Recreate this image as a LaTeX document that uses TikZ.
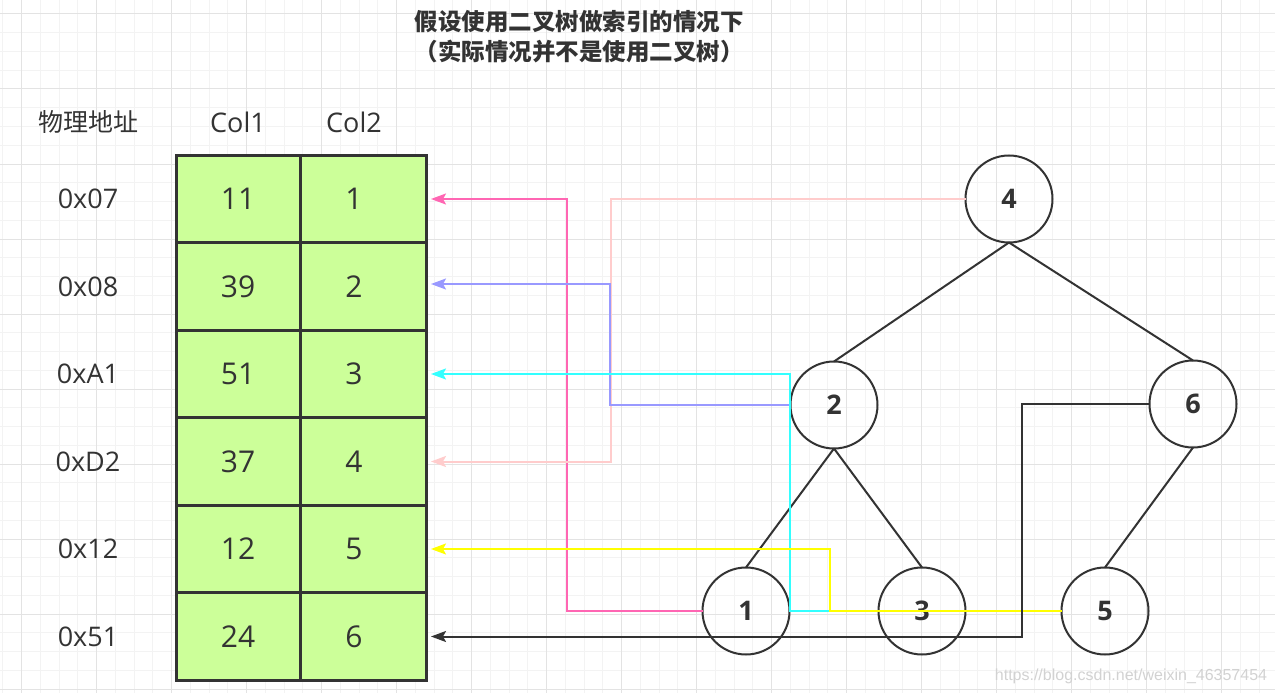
\documentclass[tikz,border=0pt]{standalone}
\usepackage{fontspec}
\setmainfont{Open Sans}
\newfontfamily\cjk{Noto Sans CJK SC}
\newfontfamily\wmfont{Liberation Sans}
\usetikzlibrary{arrows.meta,calc}
\definecolor{gridmin}{HTML}{F3F3F3}
\definecolor{gridmaj}{HTML}{E3E3E3}
\definecolor{ink}{HTML}{333333}
\definecolor{cellfill}{HTML}{CCFF99}
\definecolor{cpink}{HTML}{FF66B3}
\definecolor{clpink}{HTML}{FFCCCC}
\definecolor{clav}{HTML}{9999FF}
\definecolor{ccyan}{HTML}{33FFFF}
\definecolor{cyel}{HTML}{FFFF00}
\definecolor{wmgray}{HTML}{D2D2D2}
\begin{document}
\begin{tikzpicture}[x=1pt,y=-1pt,
  cellbox/.style={draw=ink, line width=3pt, fill=cellfill, minimum height=87.5pt, inner sep=0pt, outer sep=0pt},
  valtext/.style={text=ink, inner sep=0pt, font=\fontsize{30}{36}\selectfont},
  labtext/.style={text=ink, inner sep=0pt, font=\fontsize{27}{32}\selectfont},
  treenode/.style={draw=ink, line width=2pt, circle, minimum size=87pt, inner sep=0pt, outer sep=0pt, text=ink, font=\fontsize{27}{32}\selectfont\bfseries},
  treeedge/.style={draw=ink, line width=2pt},
  conn/.style={line width=2pt, -{Stealth[length=15pt,width=11pt,inset=3pt]}},
]
\useasboundingbox (0,0) rectangle (1275,693);
\fill[white] (0,0) rectangle (1275,693);
% grid
\foreach \i in {0,...,68} { \draw[gridmin, line width=1pt] ({2.75+18.75*\i},0) -- ++(0,693); }
\foreach \j in {0,...,36} { \draw[gridmin, line width=1pt] (0,{14+18.75*\j}) -- ++(1275,0); }
\foreach \i in {0,...,16} { \draw[gridmaj, line width=1pt] ({21.5+75*\i},0) -- ++(0,693); }
\foreach \j in {0,...,9} { \draw[gridmaj, line width=1pt] (0,{14+75*\j}) -- ++(1275,0); }

% title
\node[text=ink, align=center, inner sep=0pt, font=\cjk\bfseries\fontsize{23.5}{30}\selectfont] (title) at (579,37) {假设使用二叉树做索引的情况下\\（实际情况并不是使用二叉树）};

% header
\node[labtext, font=\cjk\fontsize{25}{30}\selectfont] (haddr) at (88,122) {物理地址};
\node[labtext] (hc1) at (238,122) {Col1};
\node[labtext] (hc2) at (354,122) {Col2};

% table
\foreach \r/\y/\a/\u/\v in {1/199/0x07/11/1, 2/286.5/0x08/39/2, 3/374/0xA1/51/3, 4/461.5/0xD2/37/4, 5/549/0x12/12/5, 6/636.5/0x51/24/6} {
  \node[cellbox, minimum width=124pt] (c\r1) at (238,\y) {};
  \node[cellbox, minimum width=126pt] (c\r2) at (363,\y) {};
  \node[valtext] (v\r1) at (238,\y) {\u};
  \node[valtext] (v\r2) at (354,\y) {\v};
  \node[labtext] (a\r) at (88,\y) {\a};
}

% tree
\node[treenode] (n4) at (1009,199) {4};
\node[treenode] (n2) at (834,405) {2};
\node[treenode] (n6) at (1193,404) {6};
\node[treenode] (n1) at (746,611) {1};
\node[treenode] (n3) at (922,611) {3};
\node[treenode] (n5) at (1105,611) {5};
\draw[treeedge] (n4.south) -- (n2.north);
\draw[treeedge] (n4.south) -- (n6.north);
\draw[treeedge] (n2.south) -- (n1.north);
\draw[treeedge] (n2.south) -- (n3.north);
\draw[treeedge] (n6.south) -- (n5.north);

% connectors
\draw[conn, cpink] (n1.west) -- (567,0 |- n1.west) |- ([xshift=5pt]c12.east);
\draw[conn, clpink] (n4.west) -- (611,0 |- n4.west) |- ([xshift=5pt]c42.east);
\draw[conn, clav] (n2.west) -- (610,0 |- n2.west) |- ([xshift=5pt,yshift=2.5pt]c22.east);
\draw[conn, ccyan] (n3.west) -- (790,0 |- n3.west) |- ([xshift=5pt]c32.east);
\draw[conn, cyel] (n5.west) -- (830,0 |- n5.west) |- ([xshift=5pt]c52.east);
\draw[conn, ink] (n6.west) -- (1022,0 |- n6.west) |- ([xshift=5pt]c62.east);

% watermark
\node[text=wmgray, inner sep=0pt, font=\wmfont\fontsize{16}{19}\selectfont] (wm) at (1131,676) {https://blog.csdn.net/weixin\_46357454};
\end{tikzpicture}
\end{document}
